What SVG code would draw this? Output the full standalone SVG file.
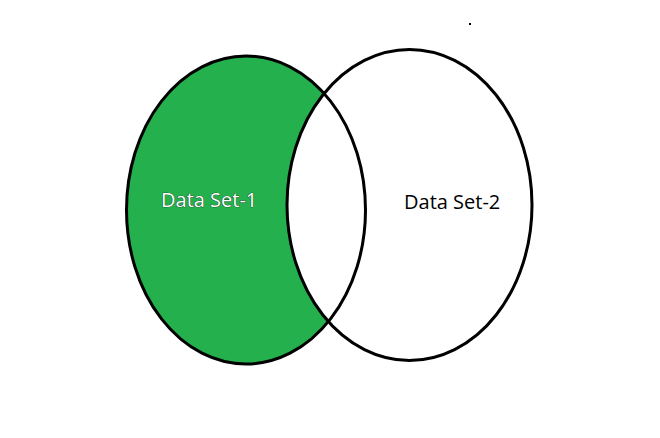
<svg xmlns="http://www.w3.org/2000/svg" width="660" height="438" viewBox="0 0 660 438">
<style>
.lbl{font-family:"Open Sans","Noto Sans","Liberation Sans",sans-serif;font-size:20px;fill:#000}
.lbl1{fill:#fff;stroke:#1a2a1a;stroke-width:0.7;paint-order:stroke}
.ring{fill:none;stroke:#000;stroke-width:3}
</style>
<rect width="660" height="438" fill="#fff"/>
<g id="set1-fill"><ellipse cx="246" cy="210" rx="119.5" ry="154" fill="#24B14D"/></g>
<g id="set2-fill"><ellipse cx="409.5" cy="205" rx="122.5" ry="155.5" fill="#fff"/></g>
<g id="set1"><ellipse class="ring" cx="246" cy="210" rx="119.5" ry="154"/><text class="lbl lbl1" x="161" y="207">Data Set-1</text></g>
<g id="set2"><ellipse class="ring" cx="409.5" cy="205" rx="122.5" ry="155.5"/><text class="lbl" x="404" y="209">Data Set-2</text></g>
<rect x="469" y="23" width="2" height="2" fill="#000"/>
</svg>
